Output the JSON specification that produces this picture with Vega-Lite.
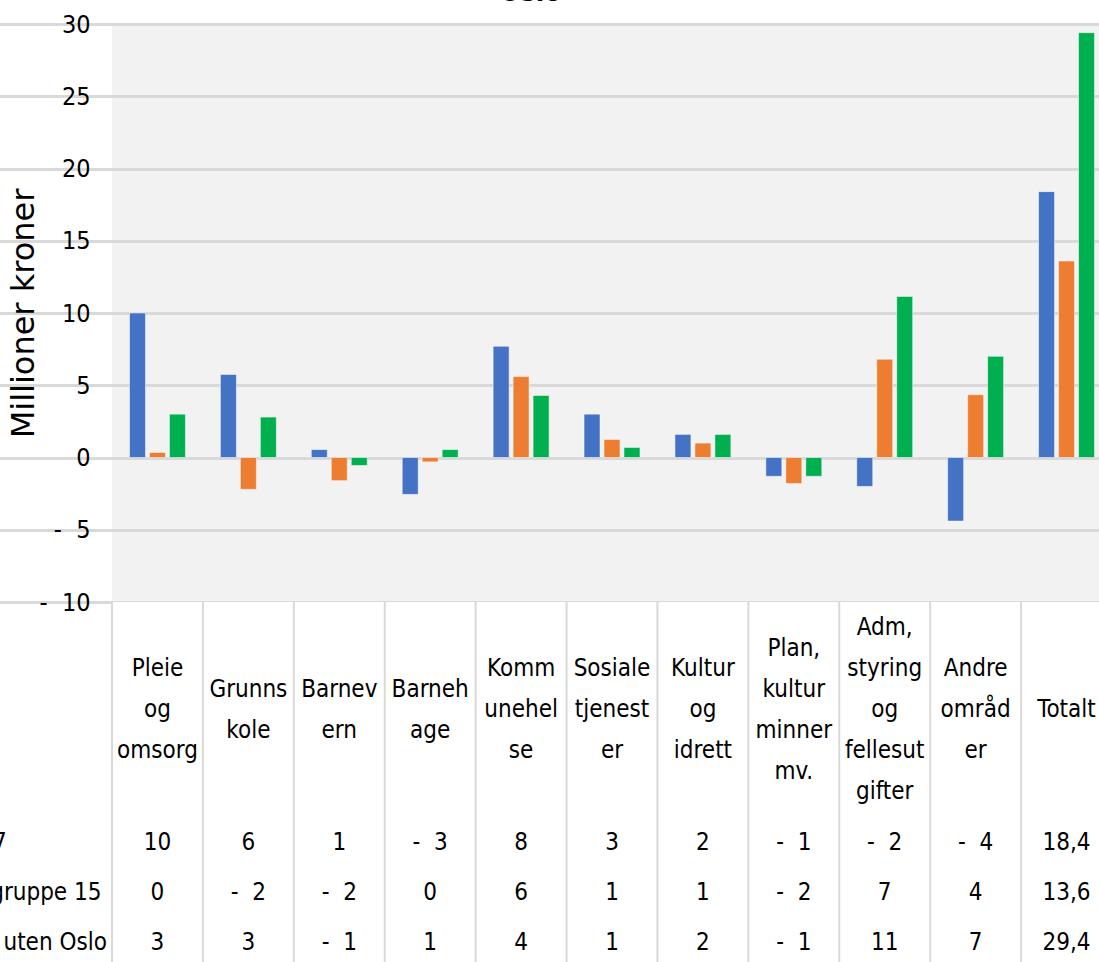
{
  "$schema": "https://vega.github.io/schema/vega-lite/v6.json",
  "autosize": {"type": "none"},
  "width": 987,
  "height": 938,
  "padding": {"left": 112, "top": 24, "right": 0, "bottom": 0},
  "background": "white",
  "title": {"text": "Oslo", "font": "DejaVu Sans Condensed, Liberation Sans, sans-serif", "fontSize": 28, "fontWeight": "bold", "color": "#000", "anchor": "middle", "dx": -75, "dy": 15, "offset": -2, "baseline": "alphabetic"},
  "config": {"view": {"fill": "#f2f2f2", "stroke": null}, "text": {"font": "DejaVu Sans Condensed, Liberation Sans, sans-serif", "fontSize": 24, "color": "#000"}},
  "datasets": {
    "cats": [
      {"cat": "Pleie og omsorg", "label": "Pleie\nog\nomsorg"},
      {"cat": "Grunnskole", "label": "Grunns\nkole"},
      {"cat": "Barnevern", "label": "Barnev\nern"},
      {"cat": "Barnehage", "label": "Barneh\nage"},
      {"cat": "Kommunehelse", "label": "Komm\nunehel\nse"},
      {"cat": "Sosiale tjenester", "label": "Sosiale\ntjenest\ner"},
      {"cat": "Kultur og idrett", "label": "Kultur\nog\nidrett"},
      {"cat": "Plan, kulturminner mv.", "label": "Plan,\nkultur\nminner\nmv."},
      {"cat": "Adm, styring og fellesutgifter", "label": "Adm,\nstyring\nog\nfellesut\ngifter"},
      {"cat": "Andre områder", "label": "Andre\nområd\ner"},
      {"cat": "Totalt", "label": "Totalt"}
    ],
    "rows": [
      {"series": "Snitt 17"},
      {"series": "Kostragruppe 15"},
      {"series": "Landet uten Oslo"}
    ],
    "vals": [
      {"cat": "Pleie og omsorg", "series": "Snitt 17", "value": 10.0, "shown": "10"},
      {"cat": "Pleie og omsorg", "series": "Kostragruppe 15", "value": 0.35, "shown": "0"},
      {"cat": "Pleie og omsorg", "series": "Landet uten Oslo", "value": 3.0, "shown": "3"},
      {"cat": "Grunnskole", "series": "Snitt 17", "value": 5.75, "shown": "6"},
      {"cat": "Grunnskole", "series": "Kostragruppe 15", "value": -2.2, "shown": "-\u00a0\u00a02"},
      {"cat": "Grunnskole", "series": "Landet uten Oslo", "value": 2.8, "shown": "3"},
      {"cat": "Barnevern", "series": "Snitt 17", "value": 0.55, "shown": "1"},
      {"cat": "Barnevern", "series": "Kostragruppe 15", "value": -1.6, "shown": "-\u00a0\u00a02"},
      {"cat": "Barnevern", "series": "Landet uten Oslo", "value": -0.55, "shown": "-\u00a0\u00a01"},
      {"cat": "Barnehage", "series": "Snitt 17", "value": -2.55, "shown": "-\u00a0\u00a03"},
      {"cat": "Barnehage", "series": "Kostragruppe 15", "value": -0.3, "shown": "0"},
      {"cat": "Barnehage", "series": "Landet uten Oslo", "value": 0.55, "shown": "1"},
      {"cat": "Kommunehelse", "series": "Snitt 17", "value": 7.7, "shown": "8"},
      {"cat": "Kommunehelse", "series": "Kostragruppe 15", "value": 5.6, "shown": "6"},
      {"cat": "Kommunehelse", "series": "Landet uten Oslo", "value": 4.3, "shown": "4"},
      {"cat": "Sosiale tjenester", "series": "Snitt 17", "value": 3.0, "shown": "3"},
      {"cat": "Sosiale tjenester", "series": "Kostragruppe 15", "value": 1.25, "shown": "1"},
      {"cat": "Sosiale tjenester", "series": "Landet uten Oslo", "value": 0.7, "shown": "1"},
      {"cat": "Kultur og idrett", "series": "Snitt 17", "value": 1.6, "shown": "2"},
      {"cat": "Kultur og idrett", "series": "Kostragruppe 15", "value": 1.0, "shown": "1"},
      {"cat": "Kultur og idrett", "series": "Landet uten Oslo", "value": 1.6, "shown": "2"},
      {"cat": "Plan, kulturminner mv.", "series": "Snitt 17", "value": -1.3, "shown": "-\u00a0\u00a01"},
      {"cat": "Plan, kulturminner mv.", "series": "Kostragruppe 15", "value": -1.8, "shown": "-\u00a0\u00a02"},
      {"cat": "Plan, kulturminner mv.", "series": "Landet uten Oslo", "value": -1.3, "shown": "-\u00a0\u00a01"},
      {"cat": "Adm, styring og fellesutgifter", "series": "Snitt 17", "value": -2.0, "shown": "-\u00a0\u00a02"},
      {"cat": "Adm, styring og fellesutgifter", "series": "Kostragruppe 15", "value": 6.8, "shown": "7"},
      {"cat": "Adm, styring og fellesutgifter", "series": "Landet uten Oslo", "value": 11.15, "shown": "11"},
      {"cat": "Andre områder", "series": "Snitt 17", "value": -4.4, "shown": "-\u00a0\u00a04"},
      {"cat": "Andre områder", "series": "Kostragruppe 15", "value": 4.35, "shown": "4"},
      {"cat": "Andre områder", "series": "Landet uten Oslo", "value": 7.0, "shown": "7"},
      {"cat": "Totalt", "series": "Snitt 17", "value": 18.4, "shown": "18,4"},
      {"cat": "Totalt", "series": "Kostragruppe 15", "value": 13.6, "shown": "13,6"},
      {"cat": "Totalt", "series": "Landet uten Oslo", "value": 29.4, "shown": "29,4"}
    ]
  },
  "layer": [
    {
      "data": {"name": "cats"},
      "mark": {"type": "bar", "fill": "white", "width": {"band": 1}},
      "encoding": {
        "x": {"field": "cat", "type": "nominal", "axis": null,
              "scale": {"domain": ["_lab0", "_lab1", "Pleie og omsorg", "Grunnskole", "Barnevern", "Barnehage", "Kommunehelse", "Sosiale tjenester", "Kultur og idrett", "Plan, kulturminner mv.", "Adm, styring og fellesutgifter", "Andre områder", "Totalt"],
                        "range": [-181.8, 1000], "paddingInner": 0, "paddingOuter": 0}},
        "y": {"datum": -10, "type": "quantitative",
              "scale": {"domain": [-34.91, 30], "nice": false, "zero": false},
              "axis": {"values": [-10, -5, 0, 5, 10, 15, 20, 25, 30], "grid": true, "gridColor": "#d9d9d9", "gridWidth": 3,
                       "domain": false, "ticks": false, "tickSize": 0, "labelPadding": 22,
                       "labelFont": "DejaVu Sans Condensed, Liberation Sans, sans-serif", "labelFontSize": 25, "labelColor": "#000",
                       "labelExpr": "datum.value < 0 ? '-\u00a0\u00a0' + abs(datum.value) : datum.label",
                       "title": "Millioner kroner", "titleFont": "DejaVu Sans", "titleFontSize": 32, "titleFontWeight": "normal",
                       "titleColor": "#000", "titleX": -79, "titleY": 289, "titleBaseline": "alphabetic", "titleAngle": -90, "titleAlign": "center"}},
        "y2": {"datum": -34.91}
      }
    },
    {
      "data": {"name": "vals"},
      "mark": {"type": "bar", "stroke": "#ffffff", "strokeWidth": 1, "strokeOpacity": 0.5},
      "encoding": {
        "x": {"field": "cat", "type": "nominal", "axis": null},
        "xOffset": {"field": "series", "type": "nominal", "scale": {"domain": ["Snitt 17", "Kostragruppe 15", "Landet uten Oslo"], "paddingInner": 0.2, "paddingOuter": 0.875}},
        "y": {"field": "value", "type": "quantitative"},
        "y2": {"datum": 0},
        "color": {"field": "series", "type": "nominal", "scale": {"domain": ["Snitt 17", "Kostragruppe 15", "Landet uten Oslo"], "range": ["#4472c4", "#ed7d31", "#00b050"]}, "legend": null}
      }
    },
    {
      "data": {"name": "cats"},
      "mark": {"type": "rule", "color": "#d9d9d9", "strokeWidth": 2},
      "encoding": {
        "x": {"field": "cat", "type": "nominal", "bandPosition": 0, "axis": null},
        "y": {"datum": -10},
        "y2": {"datum": -34.91}
      }
    },
    {
      "mark": {"type": "rule", "color": "#d9d9d9", "strokeWidth": 2},
      "encoding": {
        "x": {"datum": "Pleie og omsorg", "type": "nominal", "bandPosition": 0, "axis": null},
        "x2": {"datum": "Totalt", "bandPosition": 1},
        "y": {"datum": -10}
      }
    },
    {
      "mark": {"type": "rule", "color": "#d9d9d9", "strokeWidth": 2},
      "encoding": {
        "x": {"datum": "_lab0", "type": "nominal", "bandPosition": 0, "axis": null},
        "x2": {"datum": "Totalt", "bandPosition": 1},
        "y": {"datum": -24.88}
      }
    },
    {
      "mark": {"type": "rule", "color": "#d9d9d9", "strokeWidth": 2},
      "encoding": {
        "x": {"datum": "_lab0", "type": "nominal", "bandPosition": 0, "axis": null},
        "x2": {"datum": "Totalt", "bandPosition": 1},
        "y": {"datum": -28.41}
      }
    },
    {
      "mark": {"type": "rule", "color": "#d9d9d9", "strokeWidth": 2},
      "encoding": {
        "x": {"datum": "_lab0", "type": "nominal", "bandPosition": 0, "axis": null},
        "x2": {"datum": "Totalt", "bandPosition": 1},
        "y": {"datum": -31.87}
      }
    },
    {
      "data": {"name": "cats"},
      "transform": [{"filter": "length(split(datum.label, '\\n')) === 1"}],
      "mark": {"type": "text", "lineBreak": "\n", "lineHeight": 41, "baseline": "middle", "align": "center"},
      "encoding": {
        "x": {"field": "cat", "type": "nominal", "axis": null},
        "y": {"datum": -17.47},
        "text": {"field": "label"}
      }
    },
    {
      "data": {"name": "cats"},
      "transform": [{"filter": "length(split(datum.label, '\\n')) === 2"}],
      "mark": {"type": "text", "lineBreak": "\n", "lineHeight": 41, "baseline": "middle", "align": "center"},
      "encoding": {
        "x": {"field": "cat", "type": "nominal", "axis": null},
        "y": {"datum": -16.06},
        "text": {"field": "label"}
      }
    },
    {
      "data": {"name": "cats"},
      "transform": [{"filter": "length(split(datum.label, '\\n')) === 3"}],
      "mark": {"type": "text", "lineBreak": "\n", "lineHeight": 41, "baseline": "middle", "align": "center"},
      "encoding": {
        "x": {"field": "cat", "type": "nominal", "axis": null},
        "y": {"datum": -14.64},
        "text": {"field": "label"}
      }
    },
    {
      "data": {"name": "cats"},
      "transform": [{"filter": "length(split(datum.label, '\\n')) === 4"}],
      "mark": {"type": "text", "lineBreak": "\n", "lineHeight": 41, "baseline": "middle", "align": "center"},
      "encoding": {
        "x": {"field": "cat", "type": "nominal", "axis": null},
        "y": {"datum": -13.22},
        "text": {"field": "label"}
      }
    },
    {
      "data": {"name": "cats"},
      "transform": [{"filter": "length(split(datum.label, '\\n')) === 5"}],
      "mark": {"type": "text", "lineBreak": "\n", "lineHeight": 41, "baseline": "middle", "align": "center"},
      "encoding": {
        "x": {"field": "cat", "type": "nominal", "axis": null},
        "y": {"datum": -11.8},
        "text": {"field": "label"}
      }
    },
    {
      "data": {"name": "vals"},
      "transform": [{"filter": "datum.series === 'Snitt 17'"}],
      "mark": {"type": "text", "baseline": "middle", "align": "center"},
      "encoding": {
        "x": {"field": "cat", "type": "nominal", "axis": null},
        "y": {"datum": -26.68},
        "text": {"field": "shown"}
      }
    },
    {
      "data": {"name": "vals"},
      "transform": [{"filter": "datum.series === 'Kostragruppe 15'"}],
      "mark": {"type": "text", "baseline": "middle", "align": "center"},
      "encoding": {
        "x": {"field": "cat", "type": "nominal", "axis": null},
        "y": {"datum": -30.14},
        "text": {"field": "shown"}
      }
    },
    {
      "data": {"name": "vals"},
      "transform": [{"filter": "datum.series === 'Landet uten Oslo'"}],
      "mark": {"type": "text", "baseline": "middle", "align": "center"},
      "encoding": {
        "x": {"field": "cat", "type": "nominal", "axis": null},
        "y": {"datum": -33.6},
        "text": {"field": "shown"}
      }
    },
    {
      "data": {"name": "rows"},
      "transform": [{"filter": "datum.series === 'Snitt 17'"}],
      "mark": {"type": "text", "baseline": "middle", "align": "left", "dx": -8},
      "encoding": {
        "x": {"datum": "_lab0", "type": "nominal", "bandPosition": 0, "axis": null},
        "y": {"datum": -26.68},
        "text": {"field": "series"}
      }
    },
    {
      "data": {"name": "rows"},
      "transform": [{"filter": "datum.series === 'Kostragruppe 15'"}],
      "mark": {"type": "text", "baseline": "middle", "align": "left", "dx": -8},
      "encoding": {
        "x": {"datum": "_lab0", "type": "nominal", "bandPosition": 0, "axis": null},
        "y": {"datum": -30.14},
        "text": {"field": "series"}
      }
    },
    {
      "data": {"name": "rows"},
      "transform": [{"filter": "datum.series === 'Landet uten Oslo'"}],
      "mark": {"type": "text", "baseline": "middle", "align": "left", "dx": -8},
      "encoding": {
        "x": {"datum": "_lab0", "type": "nominal", "bandPosition": 0, "axis": null},
        "y": {"datum": -33.6},
        "text": {"field": "series"}
      }
    }
  ]
}
